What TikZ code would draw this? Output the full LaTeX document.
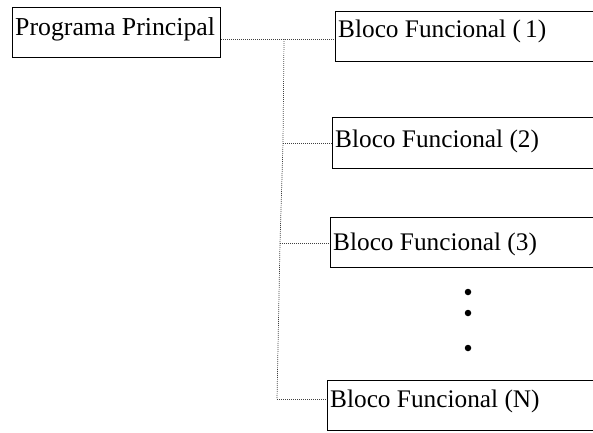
\documentclass[tikz,border=0pt]{standalone}
\usepackage{fontspec}
\setmainfont{Liberation Serif}
\usetikzlibrary{calc}
\begin{document}
\begin{tikzpicture}[x=1pt,y=-1pt,
  box/.style={draw=black,line width=1.4pt,rectangle,inner sep=0pt,anchor=north west},
  lbl/.style={inner sep=0pt,anchor=base west,font=\fontsize{25.3}{28}\selectfont},
  conn/.style={draw=black!75,line width=0.7pt,dash pattern=on 0.9pt off 1.1pt},
  dotmark/.style={circle,fill=black,inner sep=0pt,minimum size=6.5pt}]
  \useasboundingbox (0,0) rectangle (593,432);
  \clip (0,0) rectangle (593,432);
  % main program box
  \node[box,minimum width=208pt,minimum height=50pt] (prog) at (12,7) {};
  \node[lbl,font=\fontsize{25.8}{28}\selectfont] (progt) at (15,35) {Programa Principal};
  % functional blocks (open to the right edge)
  \node[box,minimum width=280pt,minimum height=50pt] (b1) at (335,11) {};
  \node[lbl] (b1t) at (338,37) {Bloco Funcional (\,1)};
  \node[box,minimum width=280pt,minimum height=51pt] (b2) at (332,117) {};
  \node[lbl] (b2t) at (335,147) {Bloco Funcional (2)};
  \node[box,minimum width=280pt,minimum height=50pt] (b3) at (330,217) {};
  \node[lbl] (b3t) at (333,250) {Bloco Funcional (3)};
  \node[box,minimum width=280pt,minimum height=50pt] (bn) at (327,380) {};
  \node[lbl] (bnt) at (330,407) {Bloco Funcional (N)};
  % ellipsis between block 3 and block N
  \node[dotmark] (d1) at (468,292) {};
  \node[dotmark] (d2) at (468,313) {};
  \node[dotmark] (d3) at (468,348) {};
  % tree of dotted connectors
  \coordinate (j1) at (284,39);
  \coordinate (j2) at (283,143);
  \coordinate (j3) at (280,243);
  \coordinate (jn) at (277,399);
  \draw[conn] (prog.east|-j1) -- (b1.west|-j1);
  \draw[conn] (j1) -- (j2) -- (j3) -- (jn);
  \draw[conn] (j2) -- (b2.west|-j2);
  \draw[conn] (j3) -- (b3.west|-j3);
  \draw[conn] (jn) -- (bn.west|-jn);
\end{tikzpicture}
\end{document}
